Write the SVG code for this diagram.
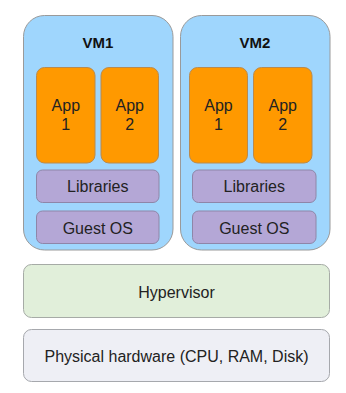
<svg xmlns="http://www.w3.org/2000/svg" width="346" height="393" viewBox="0 0 346 393">
<style>
.vm{fill:#9fd6fd;stroke:#9a9a9a;stroke-width:1}
.app{fill:#ff9900;stroke:#b98a4e;stroke-width:1}
.lib{fill:#b4a7d6;stroke:#8e86a8;stroke-width:1}
.hyp{fill:#e1efda;stroke:#a6aba6;stroke-width:1}
.hw{fill:#eeeff5;stroke:#a6a8ad;stroke-width:1}
text{font-family:"Liberation Sans",Arial,sans-serif;font-size:16px;fill:#222;text-anchor:middle}
.title{font-weight:bold;font-size:15px;fill:#111}
</style>
<rect width="346" height="393" fill="#ffffff"/>
<g id="vm1">
<rect class="vm" x="23.5" y="15.5" width="149.5" height="234.5" rx="21"/>
<text class="title" x="98" y="48">VM1</text>
</g>
<g id="vm1-app1">
<rect class="app" x="36.5" y="67.5" width="58.5" height="95.5" rx="8"/>
<text x="65.8" y="111">App</text>
<text x="65.8" y="130">1</text>
</g>
<g id="vm1-app2">
<rect class="app" x="101" y="67.5" width="57.5" height="95.5" rx="8"/>
<text x="129.7" y="111">App</text>
<text x="129.7" y="130">2</text>
</g>
<g id="vm1-libraries">
<rect class="lib" x="36.5" y="170" width="122.5" height="32.5" rx="6"/>
<text x="97.8" y="192">Libraries</text>
</g>
<g id="vm1-guestos">
<rect class="lib" x="36.5" y="211" width="122.5" height="32.5" rx="6"/>
<text x="97.8" y="233.5">Guest OS</text>
</g>
<g id="vm2">
<rect class="vm" x="180.5" y="15.5" width="149.5" height="234.5" rx="21"/>
<text class="title" x="255" y="48">VM2</text>
</g>
<g id="vm2-app1">
<rect class="app" x="189.5" y="67.5" width="58" height="95.5" rx="8"/>
<text x="218.5" y="111">App</text>
<text x="218.5" y="130">1</text>
</g>
<g id="vm2-app2">
<rect class="app" x="253.5" y="67.5" width="58.5" height="95.5" rx="8"/>
<text x="282.7" y="111">App</text>
<text x="282.7" y="130">2</text>
</g>
<g id="vm2-libraries">
<rect class="lib" x="192.5" y="170" width="123.5" height="32.5" rx="6"/>
<text x="254.3" y="192">Libraries</text>
</g>
<g id="vm2-guestos">
<rect class="lib" x="192.5" y="211" width="123.5" height="32.5" rx="6"/>
<text x="254.3" y="233.5">Guest OS</text>
</g>
<g id="hypervisor">
<rect class="hyp" x="23.5" y="264.5" width="306" height="53" rx="8"/>
<text x="176.5" y="297.5">Hypervisor</text>
</g>
<g id="hardware">
<rect class="hw" x="23.5" y="329.5" width="306" height="52" rx="8"/>
<text x="176.5" y="361.5">Physical hardware (CPU, RAM, Disk)</text>
</g>
<g id="connectors"></g>
</svg>
